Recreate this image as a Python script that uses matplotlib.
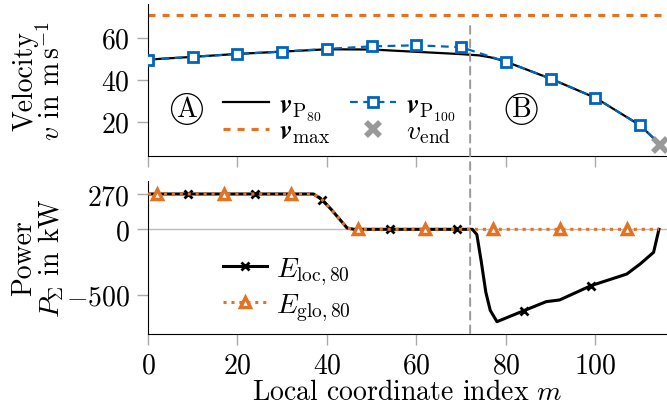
import matplotlib
matplotlib.use("Agg")
import matplotlib.pyplot as plt
from matplotlib.patches import ConnectionPatch

plt.rcParams['font.family'] = 'serif'
plt.rcParams['font.serif'] = ['cmr10', 'DejaVu Serif']
plt.rcParams['mathtext.fontset'] = 'cm'
plt.rcParams['axes.formatter.use_mathtext'] = True
plt.rcParams['axes.unicode_minus'] = True

ORANGE = '#E37222'
BLUE = '#0065BD'
GRAY = '#999999'

# ---------------- data ----------------
# velocity, upper plot
x_p80 = [0, 10, 20, 30, 40, 50, 60, 70, 72, 74, 76.5, 78, 80, 90, 100, 110, 114.5]
v_p80 = [49.5, 50.8, 52.2, 53.3, 54.4, 54.3, 53.2, 52.1, 51.8, 51.5, 50.6, 49.8, 48.5, 40.4, 31.3, 18.2, 9.0]
x_p100 = [0, 10, 20, 30, 40, 50, 60, 70, 80, 90, 100, 110, 114.5]
v_p100 = [49.5, 50.8, 52.2, 53.3, 54.6, 55.8, 56.3, 55.4, 48.5, 40.4, 31.3, 18.2, 9.0]
v_max = 70.5
x_end = [114.5]
v_end = [9.0]
x_switch = 72

# power, lower plot
x_loc = [0, 9, 24, 37, 39, 41, 43, 44.5, 46, 54, 69, 72.5, 73.5, 74.5, 75.5, 76.5, 78,
         84, 89, 92, 99, 107, 110, 113, 114.2]
p_loc = [270, 270, 270, 270, 224, 150, 70, 10, 0, 0, 0, 0, -40, -250, -480, -620, -706,
         -622, -553, -540, -431, -342, -265, -176, 0]
loc_marks = [1, 2, 4, 9, 10, 17, 20]
x_glo = [0, 2, 17, 32, 37, 39, 41, 43, 44.5, 46, 47, 62, 77, 92, 107, 114.2]
p_glo = [270, 270, 270, 270, 270, 224, 150, 70, 10, 0, 0, 0, 0, 0, 0, 0]
glo_marks = [1, 2, 3, 10, 11, 12, 13, 14]

x_ticks = [0, 20, 40, 60, 80, 100]
v_ticks = [20, 40, 60]
p_ticks = [-500, 0, 270]

# ---------------- figure ----------------
fig = plt.figure(figsize=(6.67, 4.10), dpi=100)
L, W = 0.2219, 0.7781
ax1 = fig.add_axes([L, 0.616, W, 0.372])
ax2 = fig.add_axes([L, 0.183, W, 0.373])

FS = 20
for ax in (ax1, ax2):
    ax.spines['top'].set_visible(False)
    ax.spines['right'].set_visible(False)
    ax.tick_params(direction='out', length=8, width=1, color='#aaaaaa',
                   labelsize=FS)
    ax.tick_params(axis='y', pad=5)
    ax.tick_params(axis='x', pad=5)
    ax.set_xlim(0, 116)
    ax.set_xticks(x_ticks)

ax1.tick_params(labelbottom=False)

# upper
lmax = ax1.axhline(v_max, color=ORANGE, lw=2.3, ls=(0, (2.2, 2.2)),
                   label=r'$\mathbfit{v}_\mathrm{max}$', zorder=2)
l80, = ax1.plot(x_p80, v_p80, color='black', lw=1.6, label=r'$\mathbfit{v}_{\mathrm{P}_{80}}$', zorder=3)
l100, = ax1.plot(x_p100, v_p100, color=BLUE, lw=1.6, ls=(0, (3.5, 2.5)), marker='s', ms=7,
                 mfc='white', mec=BLUE, mew=2, markevery=list(range(12)),
                 label=r'$\mathbfit{v}_{\mathrm{P}_{100}}$', zorder=4)
lend, = ax1.plot(x_end, v_end, ls='none', marker='x', ms=10, mew=4, color=GRAY,
                 label=r'$v_\mathrm{end}$', zorder=5, clip_on=False)
ax1.set_ylim(3.4, 76)
ax1.set_yticks(v_ticks)
ax1.set_ylabel('Velocity\n' + r'$v$ in $\mathrm{m\,s^{-1}}$', fontsize=FS, linespacing=0.95)
ax1.legend([l80, lmax, l100, lend],
           [l80.get_label(), lmax.get_label(), l100.get_label(), lend.get_label()],
           ncol=2, loc='center left', bbox_to_anchor=(0.1445, 0.25), frameon=False,
           fontsize=FS, handlelength=1.65, columnspacing=0.7, labelspacing=-0.12,
           handletextpad=0.36, borderaxespad=0, borderpad=0)

circ = dict(boxstyle='circle,pad=0.08', fc='white', ec='black', lw=0.9)
ax1.text(8.7, 26.0, 'A', fontsize=FS, ha='center', va='center', bbox=circ, zorder=6)
ax1.text(83.5, 26.0, 'B', fontsize=FS, ha='center', va='center', bbox=circ, zorder=6)

# lower
ax2.axhline(0, color='#bbbbbb', lw=1, zorder=1)
lloc, = ax2.plot(x_loc, p_loc, color='black', lw=2.2, marker='x', ms=5.5, mew=2,
                 markevery=loc_marks, label=r'$E_\mathrm{loc,80}$', zorder=3)
lglo, = ax2.plot(x_glo, p_glo, color=ORANGE, lw=2.2, ls=(0, (1, 1.6)), marker='^', ms=7.5,
                 mfc='white', mec=ORANGE, mew=2.5, markevery=glo_marks,
                 label=r'$E_\mathrm{glo,80}$', zorder=4, clip_on=False)
ax2.set_ylim(-800, 369)
ax2.set_yticks(p_ticks)
ax2.set_yticklabels([r'$-500$', r'$0$', r'$270$'])
ax2.set_ylabel('Power\n' + r'$P_\Sigma$ in kW', fontsize=FS, linespacing=0.95)
ax2.set_xlabel(r'Local coordinate index $m$', fontsize=FS, labelpad=0)
ax2.legend(loc='center left', bbox_to_anchor=(0.1445, 0.294), frameon=False, fontsize=FS,
           handlelength=1.6, labelspacing=0.15, handletextpad=0.3, borderaxespad=0,
           borderpad=0)

ax1.yaxis.set_label_coords(-0.158, 0.5)
ax2.yaxis.set_label_coords(-0.158, 0.5)

con = ConnectionPatch(xyA=(x_switch, 65.5), coordsA=ax1.transData,
                      xyB=(x_switch, -800), coordsB=ax2.transData,
                      color=GRAY, lw=1.4, ls=(0, (4, 3)), zorder=1)
fig.add_artist(con)

fig.savefig('out.png', dpi=100)
